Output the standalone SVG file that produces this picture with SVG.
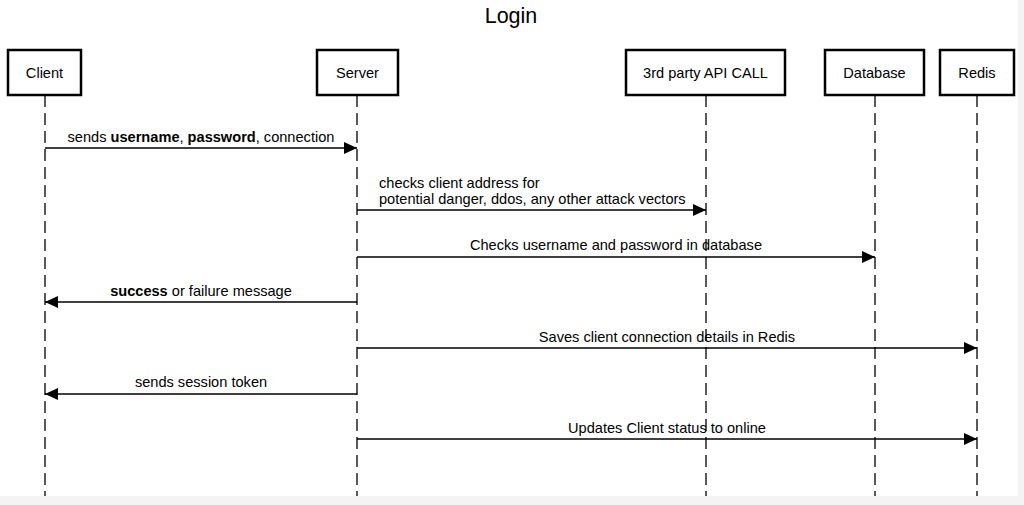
<svg xmlns="http://www.w3.org/2000/svg" width="1024" height="505" viewBox="0 0 1024 505">
<style>
text{font-family:"Liberation Sans",Arial,sans-serif;font-size:14.6px;fill:#000}
.title{font-size:21.5px}
.box{fill:#fff;stroke:#000;stroke-width:2.5}
.life{stroke:#000;stroke-width:1.3;stroke-dasharray:12 6;fill:none}
.msg{stroke:#000;stroke-width:1.3;fill:none;marker-end:url(#ah)}
.c{text-anchor:middle}
.b{font-weight:bold}
</style>
<defs>
<marker id="ah" markerWidth="14" markerHeight="12" refX="13" refY="6" orient="auto" markerUnits="userSpaceOnUse">
<path d="M0,0 L13,6 L0,12 Z" fill="#000"/>
</marker>
</defs>
<rect x="0" y="0" width="1024" height="505" fill="#f4f4f4"/>
<rect x="0" y="0" width="1018" height="496" fill="#fff"/>
<text class="title c" x="511" y="23">Login</text>
<g id="lifelines">
<line class="life" x1="45" y1="95" x2="45" y2="496"/>
<line class="life" x1="357" y1="95" x2="357" y2="496"/>
<line class="life" x1="706" y1="95" x2="706" y2="496"/>
<line class="life" x1="875" y1="95" x2="875" y2="496"/>
<line class="life" x1="977" y1="95" x2="977" y2="496"/>
</g>
<g id="client"><rect class="box" x="8" y="50" width="73" height="45"/><text class="c" x="44.5" y="78">Client</text></g>
<g id="server"><rect class="box" x="317" y="50" width="81" height="45"/><text class="c" x="357.5" y="78">Server</text></g>
<g id="api"><rect class="box" x="626" y="50" width="159" height="45"/><text class="c" x="705.5" y="78">3rd party API CALL</text></g>
<g id="database"><rect class="box" x="825" y="50" width="99" height="45"/><text class="c" x="874.5" y="78">Database</text></g>
<g id="redis"><rect class="box" x="940" y="50" width="74" height="45"/><text class="c" x="977" y="78">Redis</text></g>
<g id="connectors">
<line class="msg" x1="45" y1="148" x2="357" y2="148"/>
<text class="c" x="201" y="142">sends <tspan class="b">username</tspan>, <tspan class="b">password</tspan>, connection</text>
<line class="msg" x1="357" y1="210" x2="706" y2="210"/>
<text x="379" y="188">checks client address for</text>
<text x="379" y="204">potential danger, ddos, any other attack vectors</text>
<line class="msg" x1="357" y1="257" x2="875" y2="257"/>
<text class="c" x="616" y="250">Checks username and password in database</text>
<line class="msg" x1="357" y1="302" x2="45" y2="302"/>
<text class="c" x="201" y="296"><tspan class="b">success</tspan> or failure message</text>
<line class="msg" x1="357" y1="348" x2="977" y2="348"/>
<text class="c" x="667" y="342">Saves client connection details in Redis</text>
<line class="msg" x1="357" y1="394" x2="45" y2="394"/>
<text class="c" x="201" y="387">sends session token</text>
<line class="msg" x1="357" y1="439" x2="977" y2="439"/>
<text class="c" x="667" y="433">Updates Client status to online</text>
</g>
</svg>
